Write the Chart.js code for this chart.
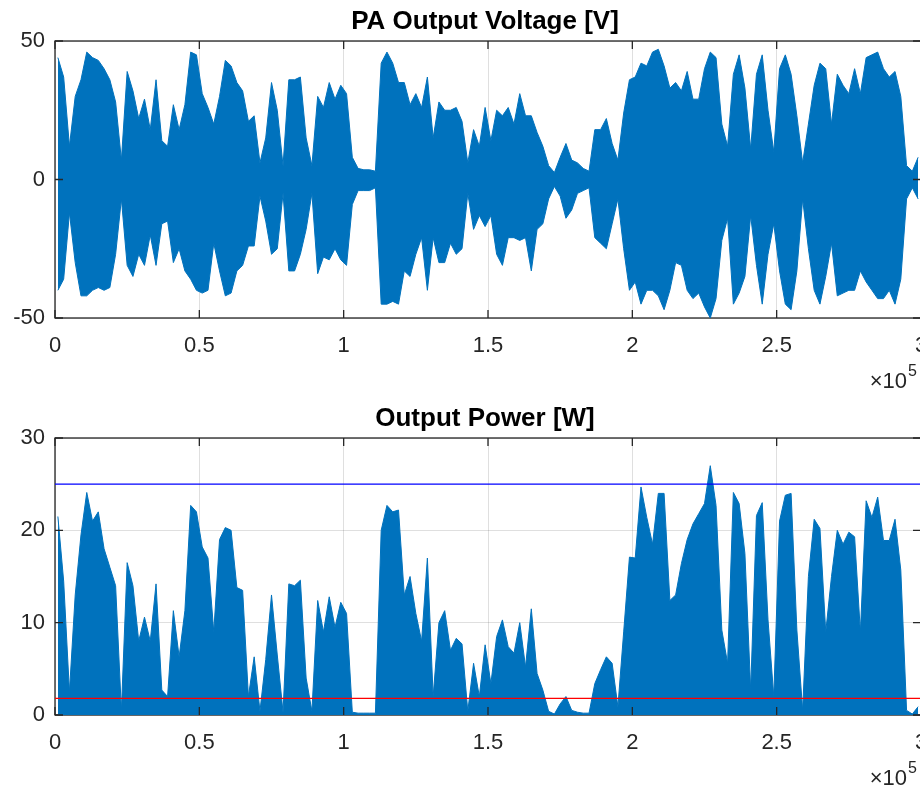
<!DOCTYPE html>
<html>
<head>
<meta charset="utf-8">
<script src="https://cdn.jsdelivr.net/npm/chart.js@4.4.1/dist/chart.umd.min.js"></script>
<style>
  html, body { margin: 0; padding: 0; background: #fff; overflow: hidden; width: 920px; height: 791px; }
  canvas { position: absolute; left: 0; display: block; }
  #volt { top: 0; }
  #power { top: 395px; }
</style>
</head>
<body>
<canvas id="volt" width="960" height="395"></canvas>
<canvas id="power" width="960" height="396"></canvas>
<script>
// one value per block of 2000 samples (0 .. 3e5 samples)
const SAMPLES_PER_BIN = 2000;

const voltUpper = [
    44, 37, 12, 30, 36, 46, 44, 43, 40, 36,
    28, 7, 39, 32, 22, 29, 18, 36, 14, 12,
    27, 18, 27, 46, 45, 31, 26, 20, 30, 43,
    41, 35, 32, 21, 23, 6, 15, 35, 25, 5,
    36, 36, 37, 15, 5, 30, 26, 35, 29, 34,
    31, 8, 4, 3.5, 3.5, 3, 42, 46, 42, 35,
    35, 27, 31, 26, 37, 15, 28, 25, 25, 26,
    21, 6, 18, 12, 26, 14, 25, 23, 26, 20,
    31, 23, 23, 17, 12, 5, 2.5, 8, 13, 7,
    6, 4, 3, 18, 18, 22, 13, 7, 24, 36,
    37, 42, 41, 46, 47, 41, 33, 35, 32, 39,
    29, 29, 40, 46, 44, 20, 12, 38, 45, 33,
    11, 38, 45, 25, 10, 40, 45, 38, 23, 6,
    20, 34, 42, 40, 20, 38, 34, 31, 40, 31,
    44, 45, 46, 40, 37, 39, 30, 5, 3, 8
];

const voltLower = [
    -40, -36, -12, -30, -42, -42, -40, -39, -40, -39,
    -27, -7, -31, -35, -27, -31, -20, -31, -16, -15,
    -30, -25, -33, -36, -40, -41, -40, -23, -33, -42,
    -41, -33, -31, -24, -24, -6, -15, -27, -25, -5,
    -33, -33, -27, -18, -5, -34, -28, -29, -25, -29,
    -31, -9, -4, -4, -4, -3, -45, -45, -44, -45,
    -33, -35, -27, -21, -40, -21, -30, -30, -23, -27,
    -25, -5, -18, -13, -17, -13, -27, -31, -21, -21,
    -22, -21, -33, -18, -16, -7, -2.5, -6, -14, -11,
    -5, -4, -3, -21, -23, -25, -16, -7, -25, -40,
    -37, -45, -40, -40, -42, -47, -40, -30, -31, -40,
    -43, -41, -46, -50, -43, -22, -14, -45, -41, -35,
    -13, -31, -45, -27, -16, -33, -45, -47, -33, -7,
    -25, -40, -45, -35, -23, -42, -41, -40, -40, -33,
    -37, -40, -43, -43, -40, -45, -36, -7, -3, -7
];

const powerPeak = [
    21.5, 14.5, 2.5, 13, 19.5, 24.1, 21, 22, 18, 16,
    14, 0.5, 16.5, 14, 8, 10.6, 8, 14.2, 2.7, 2,
    11.3, 6.3, 11.3, 22.7, 22, 18.2, 17, 9, 19, 20.3,
    20, 13.8, 13.5, 2, 6.3, 0.4, 6, 13, 6.5, 0.3,
    14.2, 14, 14.6, 4, 0.4, 12.4, 9, 12.8, 9.5, 12.2,
    11, 0.3, 0.2, 0.2, 0.2, 0.2, 20, 22.7, 22, 22.2,
    13, 15, 11, 8, 17, 2, 10, 11.3, 7, 8.3,
    7.7, 0.4, 5.6, 2, 7.6, 3.4, 8.5, 10.3, 7.4, 6.7,
    10, 5.2, 11.5, 4.5, 2.7, 0.4, 0.1, 1.2, 2, 0.5,
    0.3, 0.2, 0.2, 3.4, 4.9, 6.3, 5.6, 0.9, 9, 17.1,
    17, 24.7, 21.4, 18.5, 24, 24, 12.4, 13, 16.4, 19,
    20.7, 21.8, 22.9, 27, 22.7, 9.2, 5.6, 24.1, 22.9, 17.5,
    2.7, 21.6, 23, 10.3, 2, 21, 23.8, 24, 9.2, 0.5,
    15, 21.2, 20.2, 9, 15, 20, 18.5, 19.8, 19.3, 9,
    23.2, 21.4, 23.6, 18.9, 18.9, 21.2, 15.7, 0.5, 0.1, 0.9
];

const xTicks = [0, 50000, 100000, 150000, 200000, 250000, 300000];
const xTickLabels = ['0', '0.5', '1', '1.5', '2', '2.5', '3'];
const voltTicks = [-50, 0, 50];
const powerTicks = [0, 10, 20, 30];
const powerMax = 25;     // blue line
const powerMin = 1.8;    // red line

const BLUE = '#0072BD';
const AXIS = '#262626';
const FONT = '"Liberation Sans", Arial, sans-serif';

function toPoints(values) {
    return values.map((v, i) => ({ x: i * SAMPLES_PER_BIN + SAMPLES_PER_BIN / 2, y: v }));
}

// matlab look: full box, ticks inside, title and x10^5 exponent
const matlabAxes = {
    id: 'matlabAxes',
    beforeDatasetsDraw(chart) {
        const a = chart.chartArea;
        const ctx = chart.ctx;
        ctx.save();
        ctx.strokeStyle = AXIS;
        ctx.lineWidth = 1.3;
        ctx.strokeRect(a.left, a.top, a.right - a.left, a.bottom - a.top);
        ctx.restore();
    },
    afterDatasetsDraw(chart) {
        const a = chart.chartArea;
        const ctx = chart.ctx;
        const len = 8;
        ctx.save();
        ctx.strokeStyle = AXIS;
        ctx.lineWidth = 1.3;
        ctx.beginPath();
        chart.scales.x.ticks.forEach(t => {
            const px = chart.scales.x.getPixelForValue(t.value);
            ctx.moveTo(px, a.top); ctx.lineTo(px, a.top + len);
            ctx.moveTo(px, a.bottom); ctx.lineTo(px, a.bottom - len);
        });
        chart.scales.y.ticks.forEach(t => {
            const py = chart.scales.y.getPixelForValue(t.value);
            ctx.moveTo(a.left, py); ctx.lineTo(a.left + len, py);
            ctx.moveTo(a.right, py); ctx.lineTo(a.right - len, py);
        });
        ctx.stroke();
        ctx.restore();
    },
    afterDraw(chart, args, opts) {
        const a = chart.chartArea;
        const ctx = chart.ctx;
        ctx.save();
        ctx.fillStyle = '#000';
        ctx.font = 'bold 26px ' + FONT;
        ctx.textAlign = 'center';
        ctx.textBaseline = 'alphabetic';
        ctx.fillText(opts.title, (a.left + a.right) / 2 - 3, a.top - 12);

        ctx.fillStyle = AXIS;
        ctx.font = '22px ' + FONT;
        ctx.textAlign = 'right';
        ctx.fillText('\u00d710', 907, a.bottom + 70);
        ctx.font = '16px ' + FONT;
        ctx.textAlign = 'left';
        ctx.fillText('5', 908, a.bottom + 58);
        ctx.restore();
    }
};

function xScale(bottom) {
    return {
        type: 'linear',
        min: 0,
        max: 300000,
        afterBuildTicks: s => { s.ticks = xTicks.map(v => ({ value: v })); },
        afterFit: s => { s.height = s.chart.height - bottom; },
        grid: { color: 'rgba(38,38,38,0.15)', lineWidth: 1, drawTicks: false },
        border: { display: false },
        ticks: {
            color: AXIS,
            padding: 15,
            font: { family: FONT, size: 22 },
            callback: (v) => xTickLabels[xTicks.indexOf(v)]
        }
    };
}

function yScale(min, max, ticks) {
    return {
        type: 'linear',
        min: min,
        max: max,
        afterBuildTicks: s => { s.ticks = ticks.map(v => ({ value: v })); },
        afterFit: s => { s.width = 55; },
        grid: { color: 'rgba(38,38,38,0.15)', lineWidth: 1, drawTicks: false },
        border: { display: false },
        ticks: {
            color: AXIS,
            padding: 10,
            font: { family: FONT, size: 22 },
            callback: v => String(v)
        }
    };
}

const common = {
    responsive: false,
    animation: false,
    events: [],
    plugins: { legend: { display: false }, tooltip: { enabled: false } }
};

new Chart(document.getElementById('volt').getContext('2d'), {
    type: 'line',
    data: {
        datasets: [{
            data: toPoints(voltUpper),
            borderColor: BLUE,
            backgroundColor: BLUE,
            borderWidth: 1,
            pointRadius: 0,
            tension: 0,
            fill: '+1'
        }, {
            data: toPoints(voltLower),
            borderColor: BLUE,
            borderWidth: 1,
            pointRadius: 0,
            tension: 0,
            fill: false
        }]
    },
    options: Object.assign({}, common, {
        layout: { padding: { left: 0, right: 39, top: 41, bottom: 0 } },
        scales: { x: xScale(318), y: yScale(-50, 50, voltTicks) },
        plugins: Object.assign({}, common.plugins, { matlabAxes: { title: 'PA Output Voltage [V]' } })
    }),
    plugins: [matlabAxes]
});

new Chart(document.getElementById('power').getContext('2d'), {
    type: 'line',
    data: {
        datasets: [{
            data: toPoints(powerPeak),
            borderColor: BLUE,
            backgroundColor: BLUE,
            borderWidth: 1,
            pointRadius: 0,
            tension: 0,
            fill: 'origin',
            order: 2
        }, {
            data: [{ x: 0, y: powerMax }, { x: 300000, y: powerMax }],
            borderColor: '#0000FF',
            borderWidth: 1.3,
            pointRadius: 0,
            fill: false,
            order: 1
        }, {
            data: [{ x: 0, y: powerMin }, { x: 300000, y: powerMin }],
            borderColor: '#FF0000',
            borderWidth: 1.3,
            pointRadius: 0,
            fill: false,
            order: 0
        }]
    },
    options: Object.assign({}, common, {
        layout: { padding: { left: 0, right: 39, top: 43, bottom: 0 } },
        scales: { x: xScale(320), y: yScale(0, 30, powerTicks) },
        plugins: Object.assign({}, common.plugins, { matlabAxes: { title: 'Output Power [W]' } })
    }),
    plugins: [matlabAxes]
});
</script>
</body>
</html>
